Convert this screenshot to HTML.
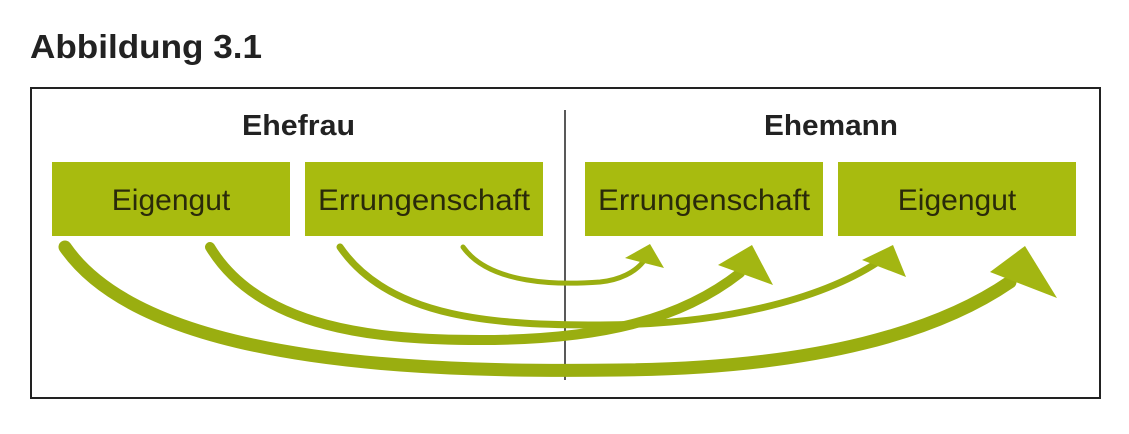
<!DOCTYPE html>
<html><head><meta charset="utf-8"><style>
body{margin:0;background:#fff;width:1129px;height:429px;overflow:hidden;font-family:"Liberation Sans",sans-serif}
</style></head><body>
<svg width="1129" height="429" viewBox="0 0 1129 429" xmlns="http://www.w3.org/2000/svg">
<text x="30" y="58" font-size="33" font-weight="bold" fill="#222" textLength="232" lengthAdjust="spacingAndGlyphs" font-family="Liberation Sans, sans-serif">Abbildung 3.1</text>
<rect x="31" y="88" width="1069" height="310" fill="none" stroke="#222" stroke-width="2"/>
<line x1="565" y1="110" x2="565" y2="380" stroke="#222" stroke-width="1.5"/>
<text x="242" y="135" font-size="29" font-weight="bold" fill="#222" textLength="113" lengthAdjust="spacingAndGlyphs">Ehefrau</text>
<text x="764" y="135" font-size="29" font-weight="bold" fill="#222" textLength="134" lengthAdjust="spacingAndGlyphs">Ehemann</text>
<g fill="#a8bb0f">
<rect x="52" y="162" width="238" height="74"/>
<rect x="305" y="162" width="238" height="74"/>
<rect x="585" y="162" width="238" height="74"/>
<rect x="838" y="162" width="238" height="74"/>
</g>
<g font-size="30" fill="#2a2a0a" text-anchor="middle">
<text x="171" y="210">Eigengut</text>
<text x="424" y="210" textLength="212" lengthAdjust="spacingAndGlyphs">Errungenschaft</text>
<text x="704" y="210" textLength="212" lengthAdjust="spacingAndGlyphs">Errungenschaft</text>
<text x="957" y="210">Eigengut</text>
</g>
<g fill="none" stroke="#9aae10" stroke-linecap="round">
<path d="M65,247 C150,370 450,372 620,370 C820,368 940,330 1010,282" stroke-width="13"/>
<path d="M210,247 C260,330 380,340 480,340 C600,340 680,320 740,273" stroke-width="10"/>
<path d="M340,247 C390,320 500,325 600,325 C720,325 820,300 878,262" stroke-width="7"/>
<path d="M463,247 C490,285 560,285 600,282 C620,280 635,272 643,262" stroke-width="5"/>
</g>
<g fill="#a3b612">
<polygon points="990,272 1025,246 1057,298"/>
<polygon points="718,265 752,245 773,285"/>
<polygon points="862,260 893,245 906,277"/>
<polygon points="625,258 650,244 664,268"/>
</g>
</svg>
</body></html>
